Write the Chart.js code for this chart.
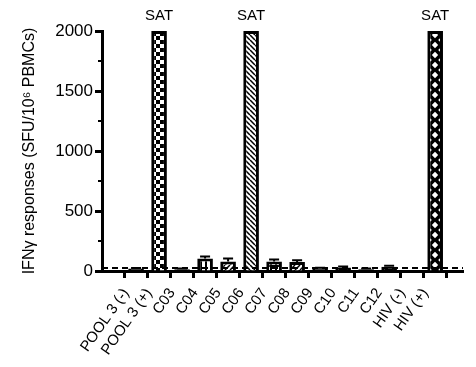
<!DOCTYPE html>
<html>
<head>
<meta charset="utf-8">
<script src="https://cdn.jsdelivr.net/npm/chart.js@4"></script>
<style>
    html, body { margin: 0; padding: 0; background: #fff; }
    #wrap { width: 476px; height: 367px; position: relative; }
</style>
</head>
<body>
<div id="wrap"><canvas id="ifnChart"></canvas></div>
<script>
// Data
const categories = ['POOL 3 (-)', 'POOL 3 (+)', 'C03', 'C04', 'C05', 'C06', 'C07', 'C08', 'C09', 'C10', 'C11', 'C12', 'HIV (-)', 'HIV (+)'];
const responses = [20, 2000, 15, 105, 80, 2000, 80, 75, 20, 30, 15, 35, 0, 2000];
const errors = [6, 0, 5, 15, 25, 0, 15, 15, 8, 8, 5, 8, 0, 0];
const saturated = [false, true, false, false, false, true, false, false, false, false, false, false, false, true];
const fills = ['solid', 'checker', 'solid', 'vlines', 'fdiag', 'bdiag', 'grid', 'fdiag', 'solid', 'solid', 'solid', 'solid', 'solid', 'diamond'];
const yTicks = [0, 500, 1000, 1500, 2000];
const cutoff = 25;

const makePattern = (kind) => {
    const c = document.createElement('canvas');
    const size = kind === 'checker' ? 8 : (kind === 'diamond' ? 10 : 5);
    c.width = size; c.height = size;
    const g = c.getContext('2d');
    g.fillStyle = '#fff';
    g.fillRect(0, 0, size, size);
    g.fillStyle = '#000';
    g.strokeStyle = '#000';
    g.lineWidth = 1.5;
    if (kind === 'solid') {
        g.fillRect(0, 0, size, size);
    } else if (kind === 'checker') {
        g.fillRect(0, 0, 4, 4);
        g.fillRect(4, 4, 4, 4);
    } else if (kind === 'vlines') {
        g.fillRect(0, 0, 2, size);
    } else if (kind === 'grid') {
        g.fillRect(0, 0, 2, size);
        g.fillRect(0, 0, size, 2);
    } else if (kind === 'fdiag' || kind === 'bdiag') {
        g.beginPath();
        for (let k = -1; k <= 1; k++) {
            if (kind === 'bdiag') {
                g.moveTo(k * size, 0); g.lineTo(k * size + size, size);
            } else {
                g.moveTo(k * size, size); g.lineTo(k * size + size, 0);
            }
        }
        g.stroke();
    } else if (kind === 'diamond') {
        g.fillRect(0, 0, size, size);
        g.fillStyle = '#fff';
        const d = (cx, cy, r) => {
            g.beginPath();
            g.moveTo(cx, cy - r); g.lineTo(cx + r, cy); g.lineTo(cx, cy + r); g.lineTo(cx - r, cy);
            g.closePath(); g.fill();
        };
        d(5, 5, 3.2);
        d(0, 0, 1.8); d(10, 0, 1.8); d(0, 10, 1.8); d(10, 10, 1.8);
    }
    return g.createPattern(c, 'repeat');
};

const extras = {
    id: 'extras',
    afterDatasetsDraw(chart) {
        const { ctx, scales: { x, y } } = chart;
        ctx.save();
        // error bars
        ctx.strokeStyle = '#000';
        ctx.lineWidth = 2;
        responses.forEach((v, i) => {
            if (!errors[i]) return;
            const px = x.getPixelForValue(i);
            const top = y.getPixelForValue(v + errors[i]);
            ctx.beginPath();
            ctx.moveTo(px, y.getPixelForValue(v));
            ctx.lineTo(px, top);
            ctx.moveTo(px - 5, top);
            ctx.lineTo(px + 5, top);
            ctx.stroke();
        });
        // cut-off line
        const cy = y.getPixelForValue(cutoff);
        ctx.setLineDash([6, 4]);
        ctx.lineWidth = 2;
        ctx.beginPath();
        ctx.moveTo(x.left, cy);
        ctx.lineTo(x.right, cy);
        ctx.stroke();
        ctx.setLineDash([]);
        // minor y ticks
        ctx.lineWidth = 2;
        [250, 750, 1250, 1750].forEach(v => {
            const py = y.getPixelForValue(v);
            ctx.beginPath();
            ctx.moveTo(x.left - 4, py);
            ctx.lineTo(x.left, py);
            ctx.stroke();
        });
        // SAT labels
        ctx.fillStyle = '#000';
        ctx.font = '15px "Liberation Sans", Arial, sans-serif';
        ctx.textAlign = 'center';
        ctx.textBaseline = 'alphabetic';
        saturated.forEach((s, i) => {
            if (!s) return;
            ctx.fillText('SAT', x.getPixelForValue(i), y.getPixelForValue(responses[i]) - 11);
        });
        ctx.restore();
    }
};

const ctx = document.getElementById('ifnChart').getContext('2d');
new Chart(ctx, {
    type: 'bar',
    data: {
        datasets: [{
            data: responses.map((v, i) => ({ x: i, y: v })),
            backgroundColor: fills.map(makePattern),
            borderColor: '#000',
            borderWidth: 3,
            borderSkipped: 'bottom',
            barPercentage: 0.68,
            categoryPercentage: 1,
            clip: false
        }]
    },
    options: {
        responsive: true,
        maintainAspectRatio: false,
        animation: false,
        layout: { padding: { top: 31, right: 13, left: 0, bottom: 0 } },
        plugins: { legend: { display: false }, tooltip: { enabled: false } },
        scales: {
            x: {
                type: 'linear',
                min: -0.92,
                max: 13.65,
                grid: { drawOnChartArea: false, tickLength: 7, tickWidth: 3, tickColor: '#000' },
                border: { color: '#000', width: 3 },
                ticks: {
                    stepSize: 1,
                    includeBounds: false,
                    autoSkip: false,
                    minRotation: 55,
                    maxRotation: 55,
                    padding: 7,
                    labelOffset: -10,
                    color: '#000',
                    font: { family: '"Liberation Sans", Arial, sans-serif', size: 15 },
                    callback: (v) => categories[v] ?? ''
                },
                afterFit: (scale) => { scale.height = 96; }
            },
            y: {
                min: 0,
                max: 2000,
                grid: {
                    drawOnChartArea: false,
                    tickLength: 7,
                    tickWidth: 3,
                    tickColor: (c) => yTicks.includes(c.tick.value) ? '#000' : 'rgba(0,0,0,0)'
                },
                border: { color: '#000', width: 3 },
                ticks: {
                    stepSize: 250,
                    padding: 2,
                    color: '#000',
                    font: { family: '"Liberation Sans", Arial, sans-serif', size: 17 },
                    callback: (v) => yTicks.includes(v) ? String(v) : ''
                },
                title: {
                    display: true,
                    text: 'IFNγ responses (SFU/10⁶ PBMCs)',
                    color: '#000',
                    font: { family: '"Liberation Sans", Arial, sans-serif', size: 16 },
                    padding: { top: 20, bottom: 0 }
                },
                afterFit: (scale) => { scale.width = 102; }
            }
        }
    },
    plugins: [extras]
});
</script>
</body>
</html>
